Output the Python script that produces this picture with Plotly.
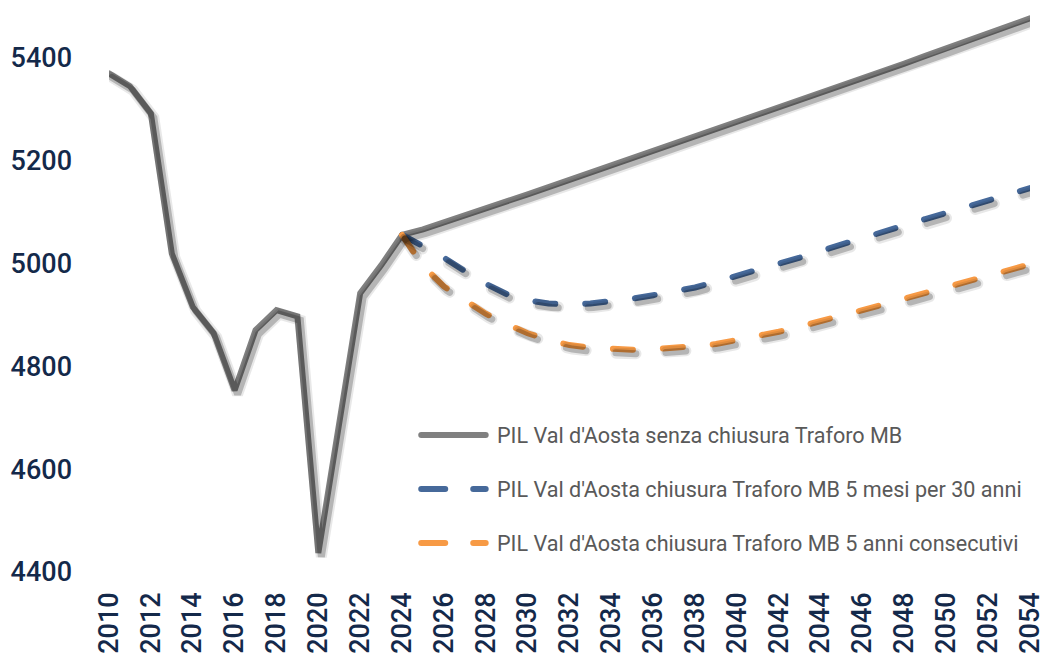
import plotly.graph_objects as go

# ---------------- data ----------------
years_hist = list(range(2010, 2025))
pil_hist = [5369, 5344, 5291, 5019, 4915, 4864, 4753, 4870, 4909, 4897,
            4437, 4690, 4942, 4996, 5055]

years_proj = list(range(2024, 2055))
pil_senza = [5055, 5066, 5079, 5093, 5107, 5120, 5134, 5148, 5162, 5176,
             5190, 5204, 5218, 5232, 5246, 5260, 5274, 5288, 5302, 5316,
             5331, 5345, 5359, 5374, 5388, 5403, 5417, 5432, 5446, 5461, 5476]
pil_5mesi = [5055, 5033, 5011, 4985, 4960, 4940, 4928, 4922, 4920, 4922,
             4926, 4931, 4938, 4945, 4953, 4964, 4975, 4987, 4999, 5011,
             5024, 5037, 5050, 5062, 5074, 5086, 5098, 5110, 5122, 5134, 5146]
pil_5anni = [5055, 4995, 4955, 4927, 4902, 4882, 4864, 4851, 4841, 4836,
             4833, 4832, 4833, 4835, 4839, 4843, 4850, 4858, 4867, 4877,
             4887, 4898, 4909, 4920, 4931, 4942, 4953, 4964, 4975, 4986, 4998]

x_ticks = list(range(2010, 2055, 2))
y_ticks = [4400, 4600, 4800, 5000, 5200, 5400]

series_names = [
    "PIL Val d'Aosta senza chiusura Traforo MB",
    "PIL Val d'Aosta chiusura Traforo MB 5 mesi per 30 anni",
    "PIL Val d'Aosta chiusura Traforo MB 5 anni consecutivi",
]

# ---------------- style ----------------
GRAY = "#808080"
BLUE = "#46699A"
ORANGE = "#F79A45"
TICK_COLOR = "#14294A"
LEGEND_TEXT = "#595959"
DASH = "20px,30px"
LW = 6

x_range = [2010, 2054]
y_range = [4400, 5500]
px_per_year = 921 / 44
px_per_unit = 566 / 1100
sx = 3 / px_per_year
sy = 4 / px_per_unit

gray_x = years_hist + years_proj[1:]
gray_y = pil_hist + pil_senza[1:]

series = [
    (gray_x, gray_y, GRAY, "solid"),
    (years_proj, pil_5mesi, BLUE, DASH),
    (years_proj, pil_5anni, ORANGE, DASH),
]

fig = go.Figure()

# shadows on offset axes
for xs, ys, col, dash in series:
    fig.add_trace(go.Scatter(x=xs, y=ys, mode="lines", xaxis="x2", yaxis="y2",
                             line=dict(color="rgba(0,0,0,0.09)", width=LW + 5, dash=dash),
                             hoverinfo="skip", showlegend=False, cliponaxis=False))
    fig.add_trace(go.Scatter(x=xs, y=ys, mode="lines", xaxis="x2", yaxis="y2",
                             line=dict(color="rgba(0,0,0,0.22)", width=LW + 1, dash=dash),
                             hoverinfo="skip", showlegend=False, cliponaxis=False))

for (xs, ys, col, dash), name in zip(series, series_names):
    fig.add_trace(go.Scatter(x=xs, y=ys, mode="lines", name=name,
                             line=dict(color=col, width=LW, dash=dash),
                             showlegend=False, cliponaxis=False))

# custom legend
leg_y = [0.242, 0.1466, 0.0512]
leg_cols = [GRAY, BLUE, ORANGE]
leg_dash = ["solid", "24px,28px", "24px,28px"]
for name, yy, col, dash in zip(series_names, leg_y, leg_cols, leg_dash):
    fig.add_shape(type="line", xref="paper", yref="paper",
                  x0=0.339, x1=0.409, y0=yy, y1=yy,
                  line=dict(color=col, width=LW, dash=dash))
    fig.add_annotation(xref="paper", yref="paper", x=0.419, y=yy,
                       xanchor="left", yanchor="middle", showarrow=False,
                       text=name, font=dict(size=21.6, color=LEGEND_TEXT,
                                            family="Roboto"))

tick_font = dict(family="Roboto", size=27, color=TICK_COLOR, weight=500)

fig.update_layout(
    width=1046, height=653,
    margin=dict(l=109, r=16, t=6, b=81),
    paper_bgcolor="white", plot_bgcolor="white",
    showlegend=False,
    xaxis=dict(range=x_range, tickvals=x_ticks, tickangle=-90,
               showgrid=False, zeroline=False, showline=False, ticks="",
               ticklabelstandoff=14, automargin=False,
               ticklabeloverflow="allow", tickfont=tick_font),
    yaxis=dict(range=y_range, tickvals=y_ticks,
               showgrid=False, zeroline=False, showline=False, ticks="",
               ticklabelstandoff=36, automargin=False,
               ticklabeloverflow="allow", tickfont=tick_font),
    xaxis2=dict(range=[x_range[0] - sx, x_range[1] - sx], overlaying="x",
                visible=False),
    yaxis2=dict(range=[y_range[0] + sy, y_range[1] + sy], overlaying="y",
                anchor="x2", visible=False),
)

post = ("document.body.style.margin='0';document.body.style.padding='0';"
        "document.querySelectorAll('.js-line, .shapelayer path').forEach("
        "function(p){p.style.strokeLinecap='round';});")
fig.write_html("out.html", post_script=post, config={"displayModeBar": False})
